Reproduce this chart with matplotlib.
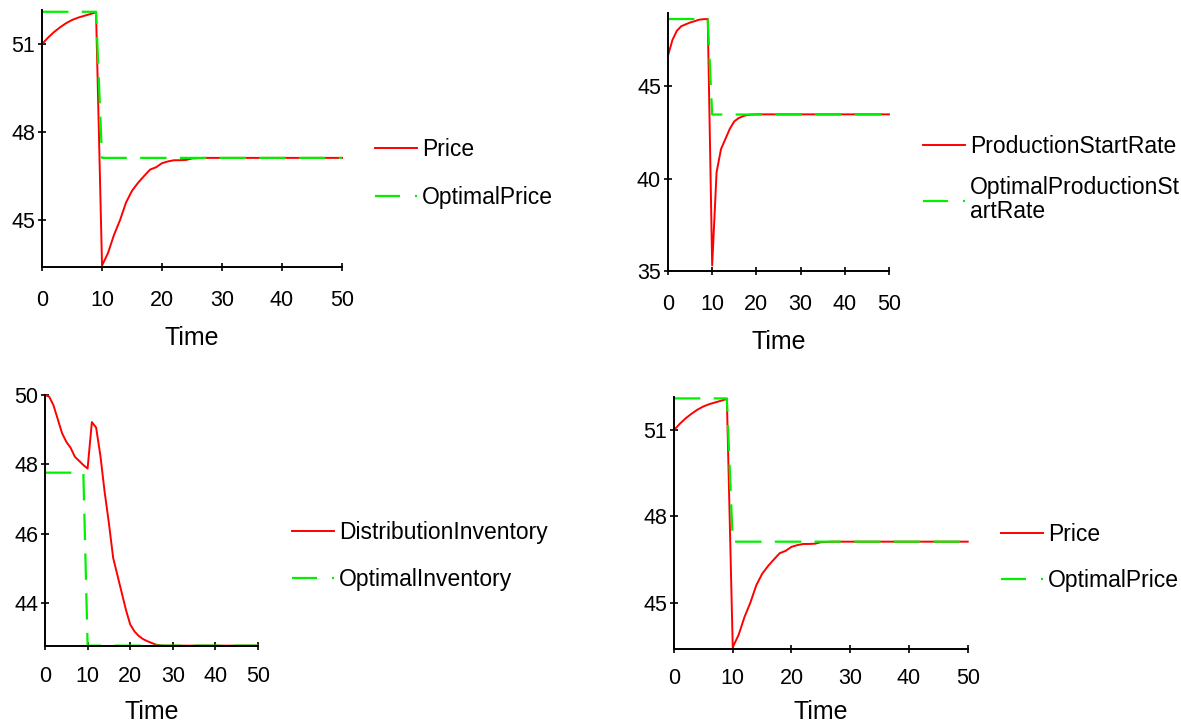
import matplotlib
matplotlib.use("Agg")
import matplotlib.pyplot as plt
from matplotlib.lines import Line2D

plt.rcParams['font.family'] = ['Liberation Sans', 'DejaVu Sans']
plt.rcParams['lines.scale_dashes'] = False

# data
price_time = [0, 1, 2, 3, 4, 5, 6, 7, 8, 9, 10, 11, 12, 13, 14, 15, 16, 17, 18, 19,
              20, 21, 22, 23, 24, 25, 26, 27, 50]
price = [51.0, 51.22, 51.41, 51.57, 51.71, 51.82, 51.90, 51.96, 52.02, 52.08,
         43.45, 43.88, 44.5, 45.0, 45.6, 46.0, 46.27, 46.5, 46.72, 46.8,
         46.94, 47.0, 47.04, 47.04, 47.05, 47.1, 47.11, 47.12, 47.12]
opt_time = [0, 9, 10, 50]
opt_price = [52.10, 52.10, 47.12, 47.12]

prod_time = [0, 1, 2, 3, 4, 5, 6, 7, 8, 9, 10, 11, 12, 13, 14, 15, 16, 17, 18, 19, 20, 50]
prod_rate = [46.65, 47.5, 48.0, 48.25, 48.35, 48.45, 48.52, 48.6, 48.63, 48.64,
             35.3, 40.35, 41.6, 42.15, 42.7, 43.1, 43.28, 43.38, 43.45, 43.47, 43.48, 43.48]
opt_prod = [48.64, 48.64, 43.47, 43.47]

inv_time = [0, 1, 2, 3, 4, 5, 6, 7, 8, 9, 10, 11, 12, 13, 14, 15, 16, 17, 18, 19,
            20, 21, 22, 23, 24, 25, 26, 27, 28, 50]
inventory = [50.0, 49.95, 49.7, 49.3, 48.9, 48.65, 48.48, 48.22, 48.1, 47.98,
             47.88, 49.22, 49.06, 48.25, 47.2, 46.3, 45.3, 44.8, 44.3, 43.8,
             43.38, 43.18, 43.05, 42.96, 42.9, 42.85, 42.8, 42.78, 42.77, 42.77]
opt_inv = [47.76, 47.76, 42.77, 42.77]

RED = '#ff0000'
GREEN = '#00f000'
DASH = (19, 9.6)

fig = plt.figure(figsize=(11.81, 7.26), dpi=100)


def panel(rect, t1, y1, t2, y2, ylim, yticks, labels, leg_xy, xpad=13.5, lpad=11, lsp=1.02):
    ax = fig.add_axes(rect)
    ax.plot(t1, y1, color=RED, lw=1.4, clip_on=False)
    ax.plot(t2, y2, color=GREEN, lw=1.6, dashes=DASH, clip_on=False)
    ax.set_xlim(0, 50)
    ax.set_ylim(*ylim)
    ax.set_xticks([0, 10, 20, 30, 40, 50])
    ax.set_yticks(yticks)
    for s in ['top', 'right']:
        ax.spines[s].set_visible(False)
    for s in ['left', 'bottom']:
        ax.spines[s].set_linewidth(1.4)
    ax.tick_params(direction='inout', length=6, width=1.2, labelsize=15.5)
    ax.tick_params(axis='x', pad=xpad)
    ax.tick_params(axis='y', pad=2)
    ax.set_xlabel('Time', fontsize=18, labelpad=lpad)
    handles = [Line2D([], [], color=RED, lw=1.4),
               Line2D([], [], color=GREEN, lw=1.6, dashes=(18, 10.8))]
    leg = fig.legend(handles, labels, loc='center left', bbox_to_anchor=leg_xy,
                     frameon=False, fontsize=16.5, handlelength=1.83, handletextpad=0.22,
                     labelspacing=lsp, borderpad=0, borderaxespad=0)
    for t in leg.get_texts():
        t.set_linespacing(1.05)
    return ax


panel([0.0356, 0.6322, 0.254, 0.354], price_time, price, opt_time, opt_price,
      (43.40, 52.16), [45, 48, 51], ['Price', 'OptimalPrice'], (0.3175, 0.7610), lsp=1.08)
panel([0.5656, 0.6267, 0.1871, 0.355], prod_time, prod_rate, opt_time, opt_prod,
      (35, 48.95), [35, 40, 45], ['ProductionStartRate', 'OptimalProductionSt\nartRate'],
      (0.7816, 0.7534), lsp=0.8)
panel([0.0381, 0.1102, 0.1804, 0.3457], inv_time, inventory, opt_time, opt_inv,
      (42.76, 50.0), [44, 46, 48, 50], ['DistributionInventory', 'OptimalInventory'],
      (0.2472, 0.2340), xpad=11.5, lpad=9)
panel([0.5707, 0.1061, 0.2487, 0.3475], price_time, price, opt_time, opt_price,
      (43.39, 52.16), [45, 48, 51], ['Price', 'OptimalPrice'], (0.8476, 0.2320),
      xpad=11, lpad=7.5)

fig.savefig('out.png', dpi=100)
